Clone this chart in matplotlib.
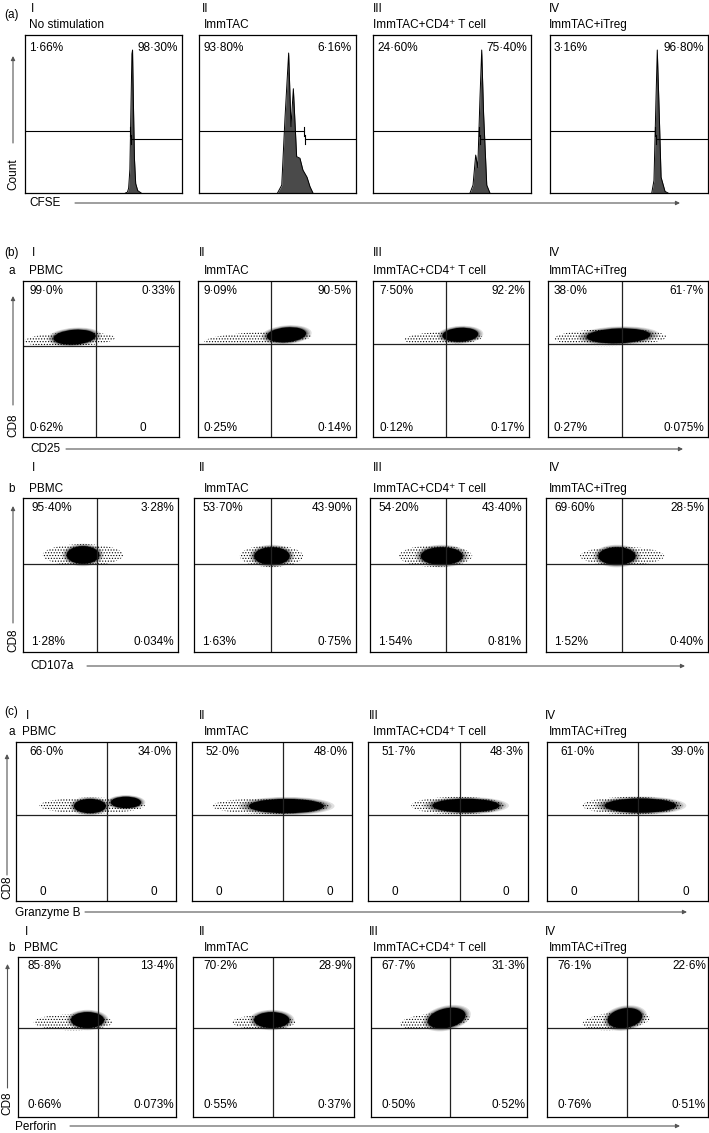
import matplotlib
matplotlib.use('Agg')
import matplotlib.pyplot as plt
from matplotlib.patches import Ellipse

plt.rcParams['font.family'] = ['Liberation Sans', 'DejaVu Sans']
plt.rcParams['hatch.linewidth'] = 0.5

# ---------------- data ----------------
numerals = ['I', 'II', 'III', 'IV']
conditions_a = ['No stimulation', 'ImmTAC', 'ImmTAC+CD4⁺ T cell', 'ImmTAC+iTreg']
conditions_bc = ['PBMC', 'ImmTAC', 'ImmTAC+CD4⁺ T cell', 'ImmTAC+iTreg']

# (a) CFSE histograms (x: CFSE channel 0-1000, y: count 0-100)
cfse_x_I = [640, 652, 660, 668, 675, 681, 685, 690, 697, 705, 718, 740]
cfse_y_I = [0, 0.5, 3, 15, 55, 88, 90.5, 60, 22, 6, 1.5, 0]
cfse_x_II = [500, 527, 548, 571, 586, 601, 622, 643, 662, 688, 707, 726]
cfse_y_II = [0, 5, 48, 88.6, 42, 66, 23, 22, 14.5, 10, 4, 0]
cfse_x_III = [614, 633, 650, 663, 677, 688, 700, 720, 740]
cfse_y_III = [0, 5, 24, 16, 60, 90.5, 50, 5, 0]
cfse_x_IV = [644, 658, 671, 679, 690, 703, 728, 747]
cfse_y_IV = [0, 8, 60, 90.5, 55, 10, 1, 0]
cfse_gate = [669, 669, 673, 665]
cfse_gate_left_level = 39
cfse_gate_right_level = 34
cfse_left_pct = ['1·66%', '93·80%', '24·60%', '3·16%']
cfse_right_pct = ['98·30%', '6·16%', '75·40%', '96·80%']

# Quadrant plots: gates (vertical x, horizontal y) in channel units 0-1000
ba_vgate = [466, 462, 466, 460]
ba_hgate = [585, 596, 596, 596]
bb_vgate = [479, 473, 485, 467]
bb_hgate = [570, 570, 570, 570]
ca_vgate = [571, 571, 575, 567]
ca_hgate = [538, 538, 538, 538]
cb_vgate = [504, 499, 506, 499]
cb_hgate = [554, 554, 554, 554]

# quadrant percentages: UL, UR, LL, LR
ba_pct = [['99·0%', '0·33%', '0·62%', '0'],
          ['9·09%', '90·5%', '0·25%', '0·14%'],
          ['7·50%', '92·2%', '0·12%', '0·17%'],
          ['38·0%', '61·7%', '0·27%', '0·075%']]
bb_pct = [['95·40%', '3·28%', '1·28%', '0·034%'],
          ['53·70%', '43·90%', '1·63%', '0·75%'],
          ['54·20%', '43·40%', '1·54%', '0·81%'],
          ['69·60%', '28·5%', '1·52%', '0·40%']]
ca_pct = [['66·0%', '34·0%', '0', '0'],
          ['52·0%', '48·0%', '0', '0'],
          ['51·7%', '48·3%', '0', '0'],
          ['61·0%', '39·0%', '0', '0']]
cb_pct = [['85·8%', '13·4%', '0·66%', '0·073%'],
          ['70·2%', '28·9%', '0·55%', '0·37%'],
          ['67·7%', '31·3%', '0·50%', '0·52%'],
          ['76·1%', '22·6%', '0·76%', '0·51%']]

# cell clouds: dense core (cx, cy, width, height, angle) and sparse fringe
ba_core = [[(330, 640, 270, 95, 4)],
           [(560, 655, 250, 95, 5)],
           [(560, 655, 230, 90, 3)],
           [(440, 648, 400, 95, 2)]]
ba_fringe = [[(300, 625, 580, 90, 2)],
             [(380, 630, 680, 85, 3)],
             [(450, 632, 500, 85, 2)],
             [(390, 637, 700, 110, 1)]]
bb_core = [[(387, 630, 210, 115, 0)],
           [(481, 623, 220, 115, 0)],
           [(460, 623, 270, 115, 0)],
           [(438, 623, 230, 115, 0)]]
bb_fringe = [[(387, 630, 520, 140, 0)],
             [(478, 623, 390, 140, 0)],
             [(420, 623, 470, 140, 0)],
             [(470, 623, 520, 120, 0)]]
ca_core = [[(462, 597, 200, 90, 0), (687, 620, 190, 72, 0)],
           [(590, 597, 470, 90, 0)],
           [(612, 600, 420, 86, 0)],
           [(580, 600, 446, 90, 0)]]
ca_fringe = [[(475, 600, 660, 100, 0)],
             [(490, 597, 730, 100, 0)],
             [(560, 600, 580, 110, 0)],
             [(530, 600, 620, 110, 0)]]
cb_core = [[(440, 606, 210, 100, 0)],
           [(489, 606, 220, 100, 0)],
           [(485, 618, 246, 122, 12)],
           [(484, 618, 217, 122, 10)]]
cb_fringe = [[(350, 592, 500, 100, 0)],
             [(440, 592, 390, 90, 0)],
             [(410, 600, 450, 100, 5)],
             [(430, 600, 420, 110, 5)]]

# ---------------- layout ----------------
W, H = 709, 1133
fig = plt.figure(figsize=(W / 100, H / 100), dpi=100)
FS = 8.5


def rect(x0, y0, x1, y1):
    return [x0 / W, 1 - y1 / H, (x1 - x0) / W, (y1 - y0) / H]


def style_box(ax):
    ax.set_xticks([])
    ax.set_yticks([])
    for s in ax.spines.values():
        s.set_linewidth(0.9)
        s.set_color('black')


# ---- (a) histograms ----
a_y = (35, 193)
a_x = [(25, 182), (199, 356), (373, 531), (550, 708)]
cfse_xs = [cfse_x_I, cfse_x_II, cfse_x_III, cfse_x_IV]
cfse_ys = [cfse_y_I, cfse_y_II, cfse_y_III, cfse_y_IV]
for i, (x0, x1) in enumerate(a_x):
    ax = fig.add_axes(rect(x0, a_y[0], x1, a_y[1]))
    ax.set_xlim(0, 1000)
    ax.set_ylim(0, 100)
    ax.fill_between(cfse_xs[i], cfse_ys[i], 0, color='#4a4a4a', lw=0)
    ax.plot(cfse_xs[i], cfse_ys[i], color='black', lw=0.7)
    g = cfse_gate[i]
    ax.plot([0, g], [cfse_gate_left_level] * 2, color='black', lw=0.8)
    ax.plot([g, g], [cfse_gate_left_level - 3, cfse_gate_left_level + 3], color='black', lw=0.8)
    ax.plot([g + 4, 1000], [cfse_gate_right_level] * 2, color='black', lw=0.8)
    ax.plot([g + 4, g + 4], [cfse_gate_right_level - 3, cfse_gate_right_level + 3], color='black', lw=0.8)
    style_box(ax)


def quad_block(ys, xs, vg, hg, cores, fringes):
    for i, (x0, x1) in enumerate(xs):
        ax = fig.add_axes(rect(x0, ys[0], x1, ys[1]))
        ax.set_xlim(0, 1000)
        ax.set_ylim(0, 1000)
        for (cx, cy, w, h, ang) in fringes[i]:
            ax.add_patch(Ellipse((cx, cy), w, h, angle=ang, fill=False,
                                 hatch='......', edgecolor='black', lw=0))
        for (cx, cy, w, h, ang) in cores[i]:
            # soft edge: stacked translucent layers
            for k, a in ((1.28, 0.12), (1.2, 0.15), (1.12, 0.2), (1.06, 0.3)):
                ax.add_patch(Ellipse((cx, cy), w * k, h * k, angle=ang,
                                     facecolor='black', edgecolor='none', alpha=a))
            ax.add_patch(Ellipse((cx, cy), w, h, angle=ang,
                                 facecolor='black', edgecolor='none'))
        ax.axvline(vg[i], color='#222222', lw=0.9)
        ax.axhline(hg[i], color='#222222', lw=0.9)
        style_box(ax)


ba_y = (281, 437)
ba_x = [(23, 179), (198, 356), (373, 529), (548, 708)]
bb_y = (498, 652)
bb_x = [(23, 178), (194, 356), (370, 526), (546, 708)]
ca_y = (742, 901)
ca_x = [(16, 176), (192, 352), (368, 528), (547, 708)]
cb_y = (957, 1117)
cb_x = [(18, 176), (193, 354), (371, 527), (547, 708)]

quad_block(ba_y, ba_x, ba_vgate, ba_hgate, ba_core, ba_fringe)
quad_block(bb_y, bb_x, bb_vgate, bb_hgate, bb_core, bb_fringe)
quad_block(ca_y, ca_x, ca_vgate, ca_hgate, ca_core, ca_fringe)
quad_block(cb_y, cb_x, cb_vgate, cb_hgate, cb_core, cb_fringe)

# ---- overlay for all annotation text ----
ov = fig.add_axes([0, 0, 1, 1])
ov.set_xlim(0, W)
ov.set_ylim(H, 0)
ov.axis('off')


def t(x, y, s, ha='left', **kw):
    ov.text(x, y, s, ha=ha, va='center', fontsize=FS, **kw)


def hl_arrow(x0, x1, y):
    ov.annotate('', xy=(x1, y), xytext=(x0, y),
                arrowprops=dict(arrowstyle='-|>', color='#555555', lw=0.8,
                                mutation_scale=6, shrinkA=0, shrinkB=0))


def vl_arrow(x, y0, y1):
    ov.annotate('', xy=(x, y1), xytext=(x, y0),
                arrowprops=dict(arrowstyle='-|>', color='#555555', lw=0.8,
                                mutation_scale=6, shrinkA=0, shrinkB=0))


# (a) texts
t(4, 15, '(a)')
num_x_a = [31, 202, 373, 549]
name_x = [29, 204, 373, 549]
for i in range(4):
    t(num_x_a[i], 9, numerals[i])
    t(name_x[i], 25, conditions_a[i])
    x0, x1 = a_x[i]
    t(x0 + 4, 48, cfse_left_pct[i])
    t(x1 - 4, 48, cfse_right_pct[i], ha='right')
t(13, 174, 'Count', rotation=90, ha='center')
vl_arrow(13, 143, 56)
t(29, 203, 'CFSE')
hl_arrow(75, 680, 203)


def quad_texts(xs, ys, pct, y_num, y_name, num_x, top_dy, bot_dy, lo, ro,
               zero_lo=None, zero_ro=None):
    for i in range(4):
        x0, x1 = xs[i]
        t(num_x[i], y_num, numerals[i])
        t(name_x[i] if i > 0 else x0 + 6, y_name, conditions_bc[i])
        t(x0 + lo, ys[0] + top_dy, pct[i][0])
        t(x1 - ro, ys[0] + top_dy, pct[i][1], ha='right')
        yb = ys[1] - bot_dy
        if pct[i][2] == '0' and zero_lo is not None:
            t(x0 + zero_lo, yb, pct[i][2], ha='center')
        else:
            t(x0 + lo, yb, pct[i][2])
        if pct[i][3] == '0' and zero_ro is not None:
            t(x1 - zero_ro, yb, pct[i][3], ha='center')
        else:
            t(x1 - ro, yb, pct[i][3], ha='right')


# (b) a
t(4, 253, '(b)')
t(12, 271, 'a', ha='center')
quad_texts(ba_x, ba_y, ba_pct, 253, 271, [32, 199, 373, 549], 10, 9, 6, 4,
           zero_ro=36)
t(13, 425, 'CD8', rotation=90, ha='center')
vl_arrow(13, 405, 296)
t(30, 449, 'CD25')
hl_arrow(66, 683, 449)

# (b) b
t(12, 489, 'b', ha='center')
quad_texts(bb_x, bb_y, bb_pct, 468, 489, [32, 199, 373, 549], 10, 10, 8, 4)
t(13, 640, 'CD8', rotation=90, ha='center')
vl_arrow(13, 623, 506)
t(30, 666, 'CD107a')
hl_arrow(87, 685, 666)

# (c) a
t(4, 712, '(c)')
t(12, 732, 'a', ha='center')
quad_texts(ca_x, ca_y, ca_pct, 716, 732, [26, 199, 369, 545], 10, 9, 13, 4,
           zero_lo=27, zero_ro=22)
t(7, 887, 'CD8', rotation=90, ha='center')
vl_arrow(7, 875, 754)
t(15, 913, 'Granzyme B')
hl_arrow(85, 687, 912)

# (c) b
t(12, 948, 'b', ha='center')
quad_texts(cb_x, cb_y, cb_pct, 932, 948, [25, 199, 369, 545], 9, 12, 10, 2)
t(7.5, 1103, 'CD8', rotation=90, ha='center')
vl_arrow(7.5, 1088, 964)
t(15, 1127, 'Perforin')
hl_arrow(70, 680, 1126)

fig.savefig('out.png', dpi=100)
